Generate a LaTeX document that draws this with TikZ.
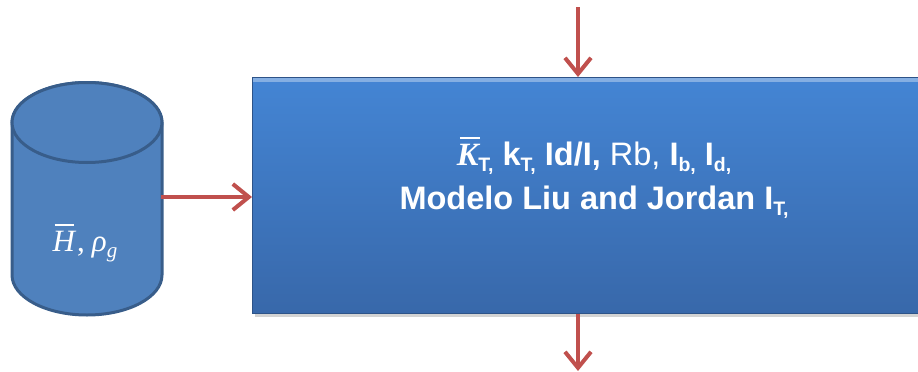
\documentclass[tikz,border=0pt]{standalone}
\usepackage{fontspec}
\setmainfont{Liberation Sans}
\newfontfamily\kfont{Liberation Serif}
\usetikzlibrary{arrows.meta,shadows}
\definecolor{arrowred}{RGB}{192,80,77}
\definecolor{cylfill}{RGB}{79,129,189}
\definecolor{cyledge}{RGB}{56,93,138}
\definecolor{boxtop}{RGB}{68,133,212}
\definecolor{boxbot}{RGB}{56,104,170}
\newcommand\mysub[1]{\raisebox{-6pt}{\fontsize{19.5}{19.5}\selectfont #1}}
\newcommand\barred[3]{{\leavevmode\rlap{\kern#3\rule[#2]{0.62em}{1.8pt}}#1}}
\tikzset{
  flow/.style={draw=arrowred, line width=4pt, -{Straight Barb[length=16pt,width=26pt,line width=4pt]}},
  mainbox/.style={top color=boxtop, bottom color=boxbot, draw=boxbot!80!black, line width=0.8pt,
     drop shadow={shadow xshift=3pt,shadow yshift=-4pt,opacity=0.35}},
  cyl/.style={fill=cylfill, draw=cyledge, line width=3pt},
  wtext/.style={text=white, align=center}
}
\begin{document}
\begin{tikzpicture}[x=1pt,y=-1pt]
\useasboundingbox (0,0) rectangle (918,372);
% main box
\node[mainbox, minimum width=680pt, minimum height=236pt, anchor=north west, inner sep=0pt] (box) at (252,77) {};
\fill[white, opacity=0.35] (252.5,78) rectangle (930,82);
\node[wtext, font=\fontsize{32.5}{44}\selectfont\bfseries] (txt) at (594,178)
 {\barred{\kfont\bfseries\itshape K}{27pt}{3pt}\mysub{T,} k\mysub{T,} Id/I, \mdseries Rb, \bfseries I\mysub{b,} I\mysub{d,}\\
  Modelo Liu and Jordan I\mysub{T,}};
% cylinder
\path[cyl] (12,122.5) -- (12,275) arc[start angle=180, end angle=0, x radius=75, y radius=40] -- (162,122.5) arc[start angle=0,end angle=-180,x radius=75,y radius=40] -- cycle;
\draw[cyl] (87,122.5) ellipse[x radius=75, y radius=40];
\node[wtext, font=\fontsize{31}{32}\selectfont\kfont] (cyltext) at (85,243)
 {\barred{\itshape H}{25pt}{2pt}\kern2pt,\kern7pt{\itshape ρ\raisebox{-6pt}{\fontsize{21}{21}\selectfont g}}};
\coordinate (cylr) at (161,197);
\coordinate (topin) at (578,7);
\coordinate (botout) at (578,371);
% arrows
\draw[flow] (cylr) -- (box.west |- cylr);
\draw[flow] (topin) -- (topin |- box.north);
\draw[flow] (botout |- box.south) -- (botout);
\end{tikzpicture}
\end{document}
